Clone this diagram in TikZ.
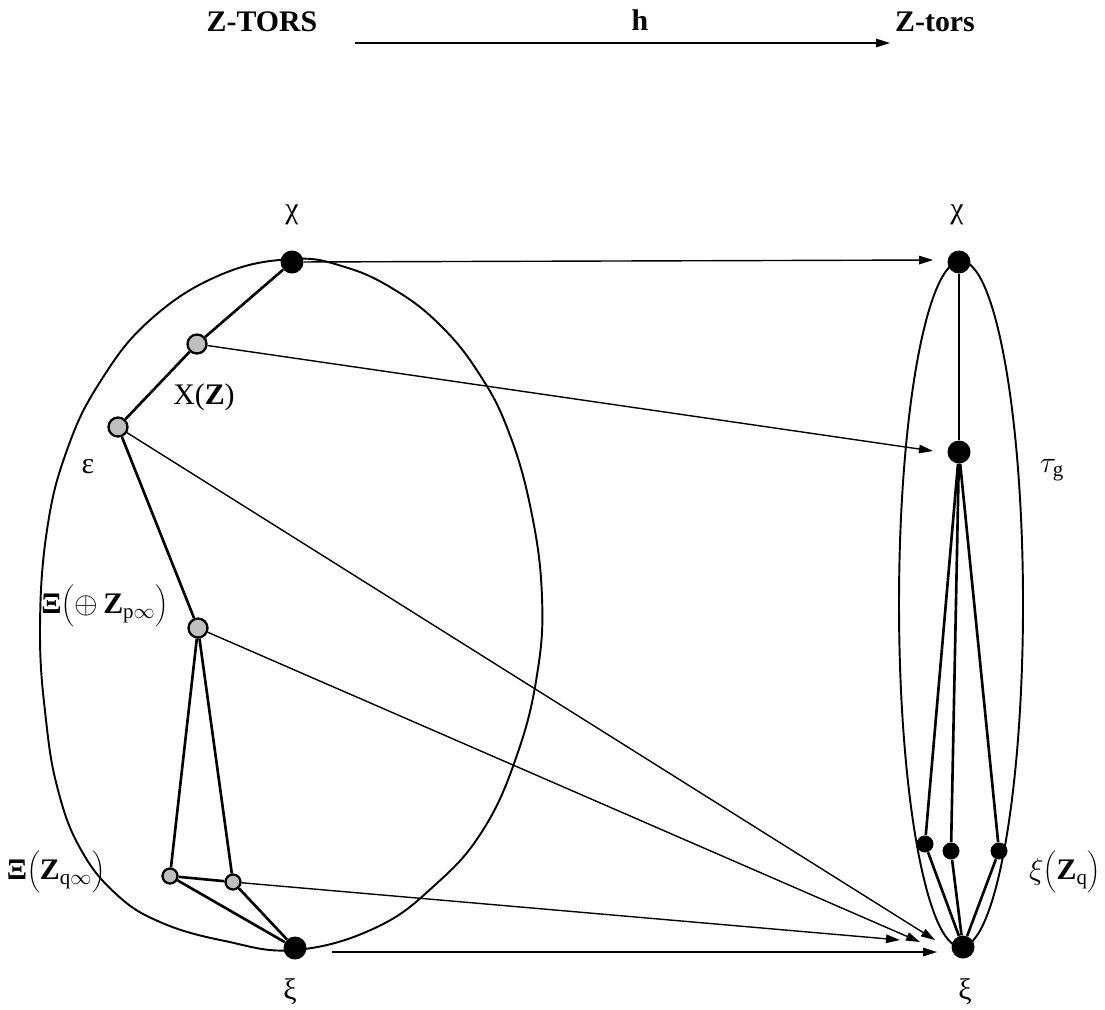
\documentclass[tikz,border=0pt]{standalone}
\usepackage{fontspec}
\setmainfont{Liberation Serif}
\usetikzlibrary{arrows.meta}
\begin{document}
\begin{tikzpicture}[x=0.02cm,y=-0.02cm,
  bigdot/.style={circle,fill=black,inner sep=0pt,minimum size=0.46cm},
  smalldot/.style={circle,fill=black,inner sep=0pt,minimum size=0.34cm},
  greydot/.style={circle,fill=gray!50,draw=black,line width=1.3pt,inner sep=0pt,minimum size=0.38cm},
  qdot/.style={greydot,minimum size=0.30cm},
  edgeline/.style={line width=1.5pt},
  conn/.style={line width=0.8pt,-{Triangle[length=0.28cm,width=0.17cm]}},
  ell/.style={line width=1.1pt},
  lab/.style={font=\fontsize{17}{20}\selectfont,inner sep=0pt},
  title/.style={font=\fontsize{17}{20}\selectfont\bfseries,inner sep=0pt}
]
\useasboundingbox (0,0) rectangle (1105,1009);

% header
\node[title] (ZT) at (262,22) {Z-TORS};
\node[title] (zt) at (935,22) {Z-tors};
\node[title] (h) at (640,20) {h};
\coordinate (a1) at (355,43);
\coordinate (a2) at (890,43);
\draw[conn] (a1) -- (a2);

% left ellipse
\draw[ell] plot[smooth cycle, tension=0.7] coordinates {
 (292,259) (345,267) (395,290) (440,325) (478,372) (508,430)
 (531,510) (542,597) (537,675) (517,755) (483,830) (435,885)
 (375,928) (295,950) (225,941) (160,922) (115,893) (80,848) (58,790)
 (46,720) (40,630) (47,530) (67,450) (100,382) (150,320) (220,275)};

% right ellipse
\draw[ell] (961,604) ellipse [x radius=62, y radius=343];

% left nodes
\node[bigdot] (chiL) at (292,262) {};
\node[greydot] (xz) at (197,344) {};
\node[greydot] (eps) at (118,427) {};
\node[greydot] (xp) at (198,628) {};
\node[qdot] (q1) at (170,876) {};
\node[qdot] (q2) at (233,882) {};
\node[bigdot] (xiL) at (295,948) {};

% right nodes
\node[bigdot] (chiR) at (959,262) {};
\node[bigdot] (tau) at (959,452) {};
\node[smalldot] (r1) at (925,844) {};
\node[smalldot] (r2) at (951,851) {};
\node[smalldot] (r3) at (999,851) {};
\node[bigdot] (xiR) at (963,947) {};

% left edges
\draw[edgeline] (chiL) -- (xz) -- (eps) -- (xp);
\draw[edgeline] (xp) -- (q1);
\draw[edgeline] (xp) -- (q2);
\draw[edgeline] (q1) -- (q2);
\draw[edgeline] (q1) -- (xiL);
\draw[edgeline] (q2) -- (xiL);

% right edges
\draw[edgeline] (chiR) -- (tau);
\draw[edgeline] (tau) -- (r1);
\draw[edgeline] (tau) -- (r2);
\draw[edgeline] (tau) -- (r3);
\draw[edgeline] (r1) -- (xiR);
\draw[edgeline] (r2) -- (xiR);
\draw[edgeline] (r3) -- (xiR);

% arrow end points
\coordinate (chiT) at (933,260);
\coordinate (tauT) at (933,451);
\coordinate (eA) at (935,940);
\coordinate (eB) at (920,942);
\coordinate (eC) at (900,940);
\coordinate (eD) at (937,952);

\draw[conn] (chiL) -- (chiT);
\draw[conn] (xz) -- (tauT);
\draw[conn] (eps) -- (eA);
\draw[conn] (xp) -- (eB);
\draw[conn] (q2) -- (eC);
\draw[conn,shorten <=0.5cm] (xiL.east |- eD) -- (eD);

% labels
\node[lab] (lchiL) at (292,215) {χ};
\node[lab] (lchiR) at (957,215) {χ};
\node[lab] (lxz) at (204,397) {X(\textbf{Z})};
\node[lab] (leps) at (88,467) {ε};
\node[lab] (lxp) at (105,606) {\textbf{Ξ}$\biggl(\oplus\,\mathbf{Z}_{\mathrm{p}\infty}\biggr)$};
\node[lab] (lxq) at (56,872) {\textbf{Ξ}$\biggl(\mathbf{Z}_{\mathrm{q}\infty}\biggr)$};
\node[lab] (lxiL) at (290,992) {ξ};
\node[lab] (lxiR) at (965,992) {ξ};
\node[lab] (ltau) at (1052,470) {$\tau_{\mathrm{g}}$};
\node[lab] (lxq2) at (1065,872) {$\xi\biggl(\mathbf{Z}_{\mathrm{q}}\biggr)$};
\end{tikzpicture}
\end{document}
